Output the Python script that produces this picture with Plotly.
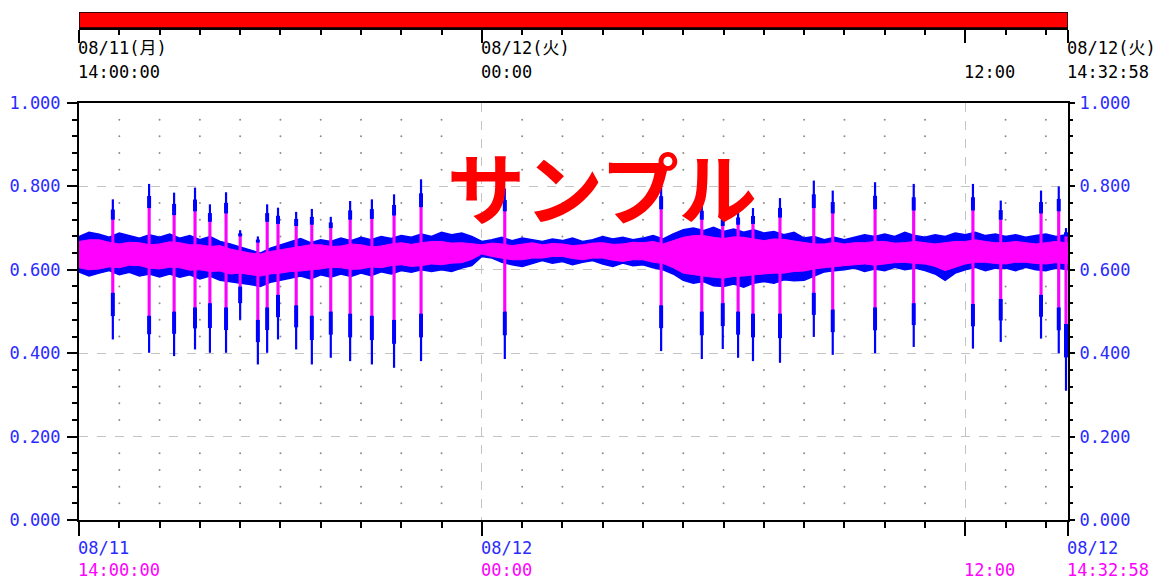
import pandas as pd
import plotly.graph_objects as go

# ---------------- data ----------------
START = "2025-08-11 14:00:00"
END = "2025-08-12 14:32:58"
MIDNIGHT = "2025-08-12 00:00:00"
NOON = "2025-08-12 12:00:00"

# blue envelope, samples every 15 minutes from START (last one at END)
blue_hi = [0.680, 0.690, 0.685, 0.678, 0.688, 0.682, 0.676, 0.684,
           0.678, 0.686, 0.676, 0.682, 0.672, 0.680, 0.668, 0.662,
           0.655, 0.648, 0.640, 0.652, 0.660, 0.668, 0.675, 0.665,
           0.672, 0.668, 0.676, 0.670, 0.678, 0.672, 0.680, 0.675,
           0.682, 0.678, 0.686, 0.680, 0.690, 0.684, 0.688, 0.680,
           0.668, 0.672, 0.678, 0.670, 0.676, 0.672, 0.668, 0.674,
           0.670, 0.676, 0.668, 0.672, 0.680, 0.674, 0.678, 0.672,
           0.676, 0.682, 0.674, 0.686, 0.696, 0.700, 0.694, 0.702,
           0.692, 0.698, 0.690, 0.696, 0.688, 0.692, 0.684, 0.690,
           0.676, 0.680, 0.672, 0.678, 0.672, 0.678, 0.684, 0.680,
           0.686, 0.680, 0.690, 0.682, 0.678, 0.684, 0.680, 0.688,
           0.684, 0.690, 0.682, 0.686, 0.680, 0.684, 0.678, 0.682,
           0.686, 0.680, 0.684, 0.680]
blue_lo = [0.595, 0.585, 0.592, 0.598, 0.588, 0.594, 0.585, 0.590,
           0.583, 0.590, 0.582, 0.588, 0.578, 0.585, 0.575, 0.572,
           0.568, 0.565, 0.560, 0.570, 0.575, 0.580, 0.585, 0.578,
           0.588, 0.582, 0.590, 0.584, 0.592, 0.586, 0.595, 0.590,
           0.598, 0.594, 0.600, 0.596, 0.600, 0.596, 0.604, 0.610,
           0.632, 0.628, 0.618, 0.612, 0.608, 0.615, 0.622, 0.616,
           0.620, 0.612, 0.618, 0.622, 0.614, 0.608, 0.616, 0.610,
           0.612, 0.605, 0.600, 0.590, 0.575, 0.568, 0.572, 0.562,
           0.560, 0.566, 0.558, 0.568, 0.572, 0.568, 0.576, 0.574,
           0.575, 0.585, 0.595, 0.598, 0.600, 0.604, 0.596, 0.602,
           0.598, 0.606, 0.600, 0.604, 0.598, 0.590, 0.575, 0.592,
           0.600, 0.606, 0.598, 0.604, 0.604, 0.598, 0.606, 0.600,
           0.598, 0.604, 0.600, 0.600]

# magenta envelope, samples every 15 minutes from START (last one at END)
pink_hi = [0.668, 0.672, 0.672, 0.666, 0.662, 0.666, 0.665, 0.660,
           0.662, 0.667, 0.665, 0.660, 0.660, 0.656, 0.658, 0.650,
           0.645, 0.640, 0.638, 0.644, 0.648, 0.652, 0.655, 0.660,
           0.660, 0.656, 0.657, 0.662, 0.660, 0.655, 0.657, 0.662,
           0.665, 0.661, 0.665, 0.668, 0.668, 0.664, 0.665, 0.662,
           0.660, 0.664, 0.662, 0.658, 0.662, 0.665, 0.660, 0.663,
           0.662, 0.658, 0.660, 0.664, 0.665, 0.661, 0.662, 0.666,
           0.665, 0.668, 0.662, 0.670, 0.678, 0.682, 0.682, 0.678,
           0.675, 0.679, 0.678, 0.674, 0.670, 0.674, 0.673, 0.669,
           0.665, 0.662, 0.662, 0.666, 0.662, 0.665, 0.665, 0.668,
           0.668, 0.664, 0.665, 0.668, 0.665, 0.662, 0.665, 0.668,
           0.668, 0.672, 0.668, 0.665, 0.665, 0.668, 0.665, 0.662,
           0.665, 0.668, 0.665, 0.665]
pink_lo = [0.605, 0.600, 0.602, 0.607, 0.605, 0.611, 0.610, 0.604,
           0.602, 0.606, 0.605, 0.599, 0.600, 0.596, 0.597, 0.590,
           0.592, 0.588, 0.585, 0.590, 0.592, 0.596, 0.597, 0.600,
           0.602, 0.606, 0.605, 0.601, 0.602, 0.607, 0.605, 0.610,
           0.612, 0.608, 0.610, 0.614, 0.612, 0.616, 0.617, 0.625,
           0.638, 0.632, 0.628, 0.624, 0.624, 0.628, 0.628, 0.632,
           0.632, 0.627, 0.624, 0.628, 0.628, 0.623, 0.620, 0.624,
           0.624, 0.618, 0.615, 0.605, 0.592, 0.588, 0.585, 0.582,
           0.580, 0.584, 0.585, 0.588, 0.590, 0.592, 0.592, 0.596,
           0.597, 0.602, 0.605, 0.608, 0.610, 0.612, 0.614, 0.611,
           0.614, 0.617, 0.618, 0.615, 0.614, 0.608, 0.598, 0.606,
           0.614, 0.618, 0.618, 0.615, 0.614, 0.618, 0.618, 0.615,
           0.614, 0.617, 0.614, 0.614]

# spikes: hours after START, blue extremes, magenta extremes
spike_hours = [0.84, 1.74, 2.36, 2.88, 3.25, 3.65, 4.00, 4.44, 4.67, 4.94, 5.39, 5.78,
               6.25, 6.73, 7.27, 7.82, 8.49, 10.57, 14.45, 15.46, 15.98, 16.36, 16.73,
               17.40, 18.24, 18.71, 19.76, 20.72, 22.19, 22.88, 23.88, 24.32, 24.50]
spike_hi = [0.769, 0.806, 0.785, 0.797, 0.757, 0.786, 0.695, 0.680, 0.757, 0.749, 0.739,
            0.746, 0.727, 0.765, 0.769, 0.781, 0.817, 0.795, 0.808, 0.763, 0.738, 0.743,
            0.748, 0.772, 0.814, 0.790, 0.810, 0.806, 0.806, 0.766, 0.790, 0.800, 0.700]
spike_lo = [0.433, 0.401, 0.393, 0.409, 0.401, 0.401, 0.480, 0.373, 0.401, 0.433, 0.409,
            0.373, 0.389, 0.381, 0.373, 0.365, 0.381, 0.386, 0.405, 0.386, 0.410, 0.389,
            0.381, 0.377, 0.439, 0.396, 0.400, 0.415, 0.411, 0.427, 0.435, 0.400, 0.310]
spike_pink_hi = [0.720, 0.748, 0.731, 0.740, 0.715, 0.735, 0.680, 0.665, 0.715, 0.710, 0.705,
                 0.708, 0.700, 0.720, 0.722, 0.730, 0.750, 0.740, 0.745, 0.720, 0.705, 0.708,
                 0.710, 0.725, 0.748, 0.735, 0.745, 0.742, 0.742, 0.720, 0.735, 0.740, 0.680]
spike_pink_lo = [0.545, 0.490, 0.500, 0.510, 0.520, 0.510, 0.560, 0.480, 0.510, 0.540, 0.515,
                 0.490, 0.500, 0.495, 0.490, 0.480, 0.495, 0.500, 0.515, 0.500, 0.520, 0.500,
                 0.495, 0.495, 0.545, 0.505, 0.510, 0.520, 0.518, 0.530, 0.540, 0.510, 0.470]

y_tickvals = [0.0, 0.2, 0.4, 0.6, 0.8, 1.0]
y_ticktext = ["0.000", "0.200", "0.400", "0.600", "0.800", "1.000"]

# ---------------- styling ----------------
BLUE = "#0000ff"
MAG = "#ff00ff"
LBLUE = "#2a2aff"
FONT = "DejaVu Sans Mono, Noto Sans CJK JP"
FS = 17
BODY = 8  # default page margin around the figure

t0 = pd.Timestamp(START)
t_end = pd.Timestamp(END)
times15 = list(pd.date_range(t0, periods=len(blue_hi) - 1, freq="15min")) + [t_end]
spike_t = [t0 + pd.Timedelta(hours=h) for h in spike_hours]


def segs(ts, a, b):
    xs, ys = [], []
    for t, y0, y1 in zip(ts, a, b):
        xs += [t, t, None]
        ys += [y0, y1, None]
    return xs, ys


fig = go.Figure()

# dotted minor grid (intersections of hourly lines and 0.04 steps)
hours = [h for h in pd.date_range(t0 + pd.Timedelta(hours=1), t_end, freq="h")
         if h.hour not in (0, 12)]
levels = [k * 0.04 for k in range(1, 25) if k % 5 != 0]
dx, dy = [], []
for h in hours:
    for v in levels:
        dx.append(h)
        dy.append(v)
fig.add_trace(go.Scatter(x=dx, y=dy, mode="markers",
                         marker=dict(size=2, color="#8c8c8c"), hoverinfo="skip"))

# blue band
fig.add_trace(go.Scatter(x=times15, y=blue_lo, mode="lines",
                         line=dict(color=BLUE, width=1.5), hoverinfo="skip"))
fig.add_trace(go.Scatter(x=times15, y=blue_hi, mode="lines",
                         line=dict(color=BLUE, width=1.5),
                         fill="tonexty", fillcolor=BLUE, hoverinfo="skip"))

# blue spikes (thin full range + wider shoulders)
sx, sy = segs(spike_t, spike_lo, spike_hi)
fig.add_trace(go.Scatter(x=sx, y=sy, mode="lines", line=dict(color=BLUE, width=2.2),
                         hoverinfo="skip"))
sh_hi = [(p + h) / 2 for p, h in zip(spike_pink_hi, spike_hi)]
sh_lo = [(p + l) / 2 for p, l in zip(spike_pink_lo, spike_lo)]
wx1, wy1 = segs(spike_t, spike_pink_hi, sh_hi)
wx2, wy2 = segs(spike_t, sh_lo, spike_pink_lo)
fig.add_trace(go.Scatter(x=wx1 + wx2, y=wy1 + wy2, mode="lines",
                         line=dict(color=BLUE, width=4), hoverinfo="skip"))

# magenta band
fig.add_trace(go.Scatter(x=times15, y=pink_lo, mode="lines", line=dict(color=MAG, width=1),
                         hoverinfo="skip"))
fig.add_trace(go.Scatter(x=times15, y=pink_hi, mode="lines", line=dict(color=MAG, width=1),
                         fill="tonexty", fillcolor=MAG, hoverinfo="skip"))
px_, py_ = segs(spike_t, spike_pink_lo, spike_pink_hi)
fig.add_trace(go.Scatter(x=px_, y=py_, mode="lines", line=dict(color=MAG, width=3),
                         hoverinfo="skip"))

# dummy traces to activate right y-axis and top bar axis
fig.add_trace(go.Scatter(x=[t0, t_end], y=[None, None], yaxis="y3", hoverinfo="skip"))
fig.add_trace(go.Scatter(x=[t0, t_end], y=[None, None], xaxis="x2", yaxis="y2",
                         hoverinfo="skip"))

major_x = [t0, pd.Timestamp(MIDNIGHT), pd.Timestamp(NOON), t_end]
minor_x = list(pd.date_range(t0, t_end, freq="h"))
xrange_ = [t0, t_end]

main_dom_top = 417 / 508
bar_dom = [492 / 508, 1.0]

fig.update_layout(
    template="none",
    width=1165 - BODY, height=580 - BODY, autosize=False,
    margin=dict(l=79 - BODY, r=97, t=12 - BODY, b=60, pad=0),
    paper_bgcolor="white", plot_bgcolor="white",
    font=dict(family=FONT, size=FS, color="black"),
    showlegend=False,
    xaxis=dict(type="date", range=xrange_, domain=[0, 1], anchor="y", automargin=False,
               showline=True, linecolor="black", linewidth=2, mirror=True,
               tickmode="array", tickvals=major_x, ticks="outside", ticklen=14,
               tickwidth=2, tickcolor="black", showticklabels=False,
               showgrid=True, gridcolor="#c4c4c4", griddash="dash", gridwidth=1,
               zeroline=False,
               minor=dict(tickmode="array", tickvals=minor_x, ticks="outside",
                          ticklen=6, tickwidth=2, tickcolor="black", showgrid=False)),
    yaxis=dict(domain=[0, main_dom_top], range=[0, 1], anchor="x", automargin=False,
               showline=True, linecolor="black", linewidth=2, mirror=True,
               tickmode="array", tickvals=y_tickvals, ticktext=y_ticktext,
               ticks="outside", ticklen=10, tickwidth=2, tickcolor="black",
               tickfont=dict(color=LBLUE, size=FS, family=FONT),
               ticklabelstandoff=3,
               showgrid=True, gridcolor="#c4c4c4", griddash="dash", gridwidth=1,
               zeroline=False,
               minor=dict(dtick=0.04, tick0=0, ticks="outside", ticklen=5,
                          tickwidth=2, tickcolor="black", showgrid=False)),
    yaxis3=dict(overlaying="y", side="right", range=[0, 1], anchor="x", automargin=False,
                tickmode="array", tickvals=y_tickvals, ticktext=y_ticktext,
                ticks="outside", ticklen=6, tickwidth=2, tickcolor="black",
                showline=False, showgrid=False, zeroline=False,
                ticklabelstandoff=1,
                tickfont=dict(color=LBLUE, size=FS, family=FONT),
                minor=dict(dtick=0.04, tick0=0, ticks="outside", ticklen=4,
                           tickwidth=2, tickcolor="black", showgrid=False)),
    xaxis2=dict(type="date", range=xrange_, domain=[0, 1], anchor="y2", automargin=False,
                showline=True, linecolor="black", linewidth=2,
                tickmode="array", tickvals=major_x, ticks="outside", ticklen=13,
                tickwidth=2, tickcolor="black", showticklabels=False,
                showgrid=False, zeroline=False,
                minor=dict(tickmode="array", tickvals=minor_x, ticks="outside",
                           ticklen=5, tickwidth=2, tickcolor="black", showgrid=False)),
    yaxis2=dict(domain=bar_dom, range=[0, 1], anchor="x2", visible=False, automargin=False),
)

fig.add_shape(type="rect", xref="x2", yref="y2", x0=t0, x1=t_end, y0=0, y1=1,
              fillcolor="#ff0000", line=dict(color="black", width=1.5), layer="above")

# top time labels
top_lines = [
    (t0, "08/11(月)", "14:00:00"),
    (pd.Timestamp(MIDNIGHT), "08/12(火)", "00:00"),
    (pd.Timestamp(NOON), "", "12:00"),
    (t_end, "08/12(火)", "14:32:58"),
]
for x, l1, l2 in top_lines:
    if l1:
        fig.add_annotation(x=x, y=(520 - 48) / 508, xref="x", yref="paper", text=l1,
                           showarrow=False, xanchor="left", yanchor="middle", xshift=-3,
                           font=dict(family=FONT, size=FS, color="black"))
    fig.add_annotation(x=x, y=(520 - 72) / 508, xref="x", yref="paper", text=l2,
                       showarrow=False, xanchor="left", yanchor="middle", xshift=-3,
                       font=dict(family=FONT, size=FS, color="black"))

# bottom time labels
bot_lines = [
    (t0, "08/11", "14:00:00"),
    (pd.Timestamp(MIDNIGHT), "08/12", "00:00"),
    (pd.Timestamp(NOON), "", "12:00"),
    (t_end, "08/12", "14:32:58"),
]
for x, l1, l2 in bot_lines:
    if l1:
        fig.add_annotation(x=x, y=(520 - 548) / 508, xref="x", yref="paper", text=l1,
                           showarrow=False, xanchor="left", yanchor="middle", xshift=-3,
                           font=dict(family=FONT, size=FS, color=LBLUE))
    fig.add_annotation(x=x, y=(520 - 570) / 508, xref="x", yref="paper", text=l2,
                       showarrow=False, xanchor="left", yanchor="middle", xshift=-3,
                       font=dict(family=FONT, size=FS, color=MAG))

# watermark
fig.add_annotation(x=(602 - 79) / 989, y=(520 - 185) / 508, xref="paper", yref="paper",
                   text="サンプル", showarrow=False, xanchor="center", yanchor="middle",
                   font=dict(family="Noto Sans CJK JP", size=78, color="#ff0000", weight=700))

fig.write_html("out.html")
